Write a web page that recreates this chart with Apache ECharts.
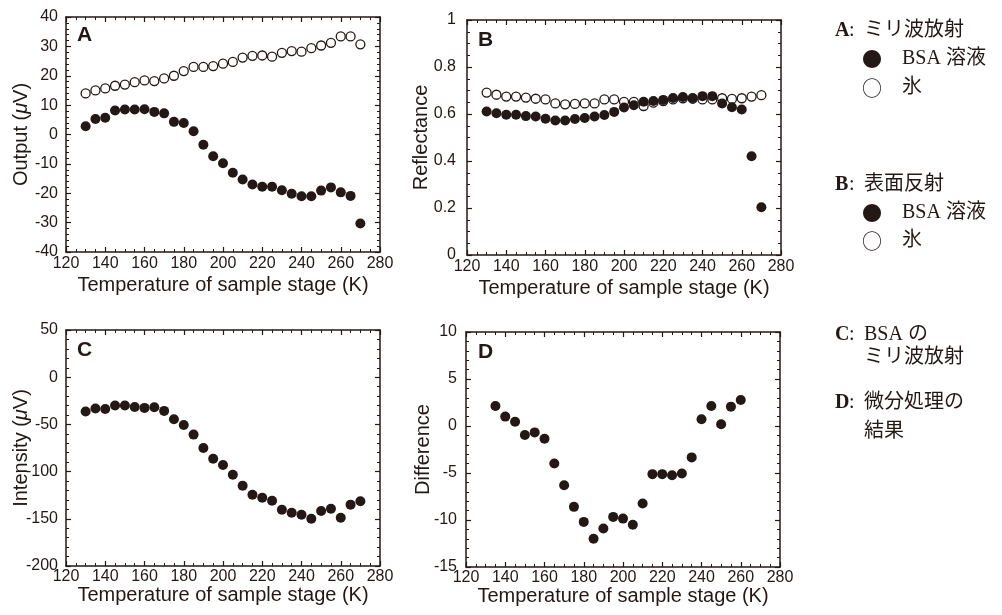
<!DOCTYPE html>
<html>
<head>
<meta charset="utf-8">
<script src="https://cdn.jsdelivr.net/npm/echarts@6/dist/echarts.min.js"></script>
<style>
html, body { margin: 0; padding: 0; background: #fff; }
#chart { width: 1002px; height: 615px; }
</style>
</head>
<body>
<div id="chart"></div>
<script>
// 温度 (K)
var temps = [130, 135, 140, 145, 150, 155, 160, 165, 170, 175, 180, 185, 190, 195, 200,
             205, 210, 215, 220, 225, 230, 235, 240, 245, 250, 255, 260, 265, 270];
// A: ミリ波放射
var outputBSA = [2.8, 5.3, 5.7, 8.2, 8.5, 8.5, 8.6, 7.7, 7.2, 4.3, 3.9, 1.1, -3.5, -7.4, -9.8,
                 -13.0, -15.3, -17.0, -17.8, -17.8, -19.0, -20.2, -21.0, -21.0, -19.1, -18.0, -19.7, -20.9, -30.3];
var outputIce = [14.0, 15.0, 15.7, 16.6, 17.0, 17.8, 18.4, 18.2, 19.1, 20.0, 21.6, 23.0, 23.0, 23.3, 24.1,
                 24.7, 26.2, 26.8, 26.9, 26.5, 27.8, 28.4, 28.2, 29.4, 30.3, 31.2, 33.4, 33.4, 30.7];
// B: 表面反射
var reflBSA = [0.611, 0.603, 0.597, 0.597, 0.591, 0.589, 0.580, 0.572, 0.572, 0.579, 0.583, 0.589, 0.596, 0.609, 0.628,
               0.637, 0.652, 0.655, 0.660, 0.668, 0.672, 0.668, 0.676, 0.676, 0.645, 0.629, 0.619, 0.420, 0.203];
var reflIce = [0.691, 0.682, 0.674, 0.674, 0.670, 0.665, 0.662, 0.645, 0.641, 0.643, 0.645, 0.645, 0.662, 0.662, 0.652,
               0.652, 0.634, 0.648, 0.655, 0.662, 0.667, 0.665, 0.662, 0.662, 0.667, 0.664, 0.667, 0.674, 0.680];
// C: BSA のミリ波放射
var intensity = [-36.4, -33.2, -33.6, -30.0, -30.0, -31.5, -32.5, -31.8, -35.7, -44.6, -50.6, -60.8, -75.0, -86.3, -93.0,
                 -103.3, -115.0, -124.5, -127.7, -130.8, -140.4, -143.6, -145.7, -150.0, -141.8, -139.3, -148.9, -135.0, -131.5];
// D: 微分処理の結果
var diffTemps = [135, 140, 145, 150, 155, 160, 165, 170, 175, 180, 185, 190, 195, 200,
                 205, 210, 215, 220, 225, 230, 235, 240, 245, 250, 255, 260];
var difference = [2.13, 1.0, 0.46, -0.96, -0.68, -1.35, -3.98, -6.3, -8.6, -10.2, -12.0, -10.9, -9.67, -9.85,
                  -10.5, -8.25, -5.12, -5.12, -5.23, -5.05, -3.34, 0.71, 2.13, 0.18, 2.06, 2.77];

var ink = '#231815';
var sansFont = '"Liberation Sans", Arial, sans-serif';
var serifFont = '"Liberation Serif", "Noto Sans CJK JP", serif';
var cjkFont = '"Noto Sans CJK JP", sans-serif';

var chart = echarts.init(document.getElementById('chart'), null, {renderer: 'canvas'});

function zip(xs, ys) {
    return xs.map(function (x, i) { return [x, ys[i]]; });
}

var grids = [
    {left: 66, top: 17, width: 314, height: 235},
    {left: 467, top: 20, width: 314, height: 235},
    {left: 66, top: 330, width: 314, height: 236},
    {left: 466, top: 332, width: 314, height: 235}
];

var xAxes = [];
var yAxes = [];

function axisLine() {
    return {show: true, onZero: false, lineStyle: {color: ink, width: 1.5}};
}

function addAxes(gi, yMin, yMax, yStep, ySplit, yName, nameGap, yLabelMargin, xLabelMargin, xNameGap) {
    var base = {
        type: 'value', gridIndex: gi, min: 120, max: 280, interval: 20,
        axisLine: axisLine(),
        axisTick: {show: true, inside: true, length: 5, lineStyle: {color: ink, width: 1.2}},
        minorTick: {show: true, splitNumber: 4, length: 3, lineStyle: {color: ink, width: 1}},
        splitLine: {show: false}
    };
    xAxes.push(Object.assign({}, base, {
        position: 'bottom',
        axisLabel: {color: ink, fontSize: 16, fontFamily: sansFont, margin: xLabelMargin},
        name: 'Temperature of sample stage (K)', nameLocation: 'middle', nameGap: xNameGap,
        nameTextStyle: {color: ink, fontSize: 20, fontFamily: sansFont}
    }));
    xAxes.push(Object.assign({}, base, {position: 'top', axisLabel: {show: false}}));

    var ybase = {
        type: 'value', gridIndex: gi, min: yMin, max: yMax, interval: yStep,
        axisLine: axisLine(),
        axisTick: {show: true, inside: true, length: 5, lineStyle: {color: ink, width: 1.2}},
        minorTick: {show: true, splitNumber: ySplit, length: 3, lineStyle: {color: ink, width: 1}},
        splitLine: {show: false}
    };
    yAxes.push(Object.assign({}, ybase, {
        position: 'left',
        axisLabel: {color: ink, fontSize: 16, fontFamily: sansFont, margin: yLabelMargin},
        name: yName, nameLocation: 'middle', nameGap: nameGap, nameMoveOverlap: false,
        nameTextStyle: {color: ink, fontSize: 20, fontFamily: sansFont,
                        rich: {i: {fontStyle: 'italic', fontSize: 20, fontFamily: sansFont, color: ink}}}
    }));
    yAxes.push(Object.assign({}, ybase, {position: 'right', axisLabel: {show: false}}));
}

addAxes(0, -40, 40, 10, 5, 'Output ({i|μ}V)', 35, 8, 4, 23);
addAxes(1, 0, 1, 0.2, 4, 'Reflectance', 36, 11, 4, 23);
addAxes(2, -200, 50, 50, 5, 'Intensity ({i|μ}V)', 35, 8, 3, 17);
addAxes(3, -15, 10, 5, 5, 'Difference', 33, 9, 3, 17);

function filled(gi, data) {
    return {
        type: 'scatter', xAxisIndex: gi * 2, yAxisIndex: gi * 2, data: data,
        symbol: 'circle', symbolSize: 10, z: 3,
        itemStyle: {color: ink, opacity: 1}
    };
}

function hollow(gi, data) {
    return {
        type: 'scatter', xAxisIndex: gi * 2, yAxisIndex: gi * 2, data: data,
        symbol: 'circle', symbolSize: 9, z: 2,
        itemStyle: {color: '#fff', borderColor: ink, borderWidth: 1.3, opacity: 1}
    };
}

var letters = [
    {text: 'A', left: 77, top: 25},
    {text: 'B', left: 478, top: 30},
    {text: 'C', left: 77, top: 340},
    {text: 'D', left: 478, top: 342}
];

// 右側の説明テキスト
var heads = [
    {y: 31, key: 'A', text: 'ミリ波放射'},
    {y: 185, key: 'B', text: '表面反射'},
    {y: 335, key: 'C', text: 'BSA の'},
    {y: 403, key: 'D', text: '微分処理の'}
];
var subLines = [
    {x: 862, y: 59, text: '●'}, {x: 902, y: 59, text: 'BSA 溶液'},
    {x: 862, y: 88, text: '○'}, {x: 902, y: 88, text: '氷'},
    {x: 862, y: 213, text: '●'}, {x: 902, y: 213, text: 'BSA 溶液'},
    {x: 862, y: 241, text: '○'}, {x: 902, y: 241, text: '氷'},
    {x: 864, y: 358, text: 'ミリ波放射'},
    {x: 864, y: 432, text: '結果'}
];

function noteText(x, y, text, font, weight) {
    return {
        type: 'text', x: x, y: y,
        style: {text: text, fill: ink, verticalAlign: 'middle',
                font: (weight || 'normal') + ' 20px ' + font}
    };
}

var graphics = [];
heads.forEach(function (h) {
    graphics.push(noteText(835, h.y, h.key, serifFont, 'bold'));
    graphics.push(noteText(849, h.y, ':', serifFont));
    graphics.push(noteText(864, h.y, h.text, serifFont));
});
subLines.forEach(function (s) {
    var f = (s.text === '●' || s.text === '○') ? cjkFont : serifFont;
    graphics.push(noteText(s.x, s.y, s.text, f));
});

var option = {
    animation: false,
    backgroundColor: '#fff',
    title: letters.map(function (l) {
        return {text: l.text, left: l.left, top: l.top, padding: 0,
                textStyle: {color: ink, fontSize: 21, fontWeight: 'bold', fontFamily: sansFont}};
    }),
    grid: grids,
    xAxis: xAxes,
    yAxis: yAxes,
    series: [
        hollow(0, zip(temps, outputIce)),
        filled(0, zip(temps, outputBSA)),
        hollow(1, zip(temps, reflIce)),
        filled(1, zip(temps, reflBSA)),
        filled(2, zip(temps, intensity)),
        filled(3, zip(diffTemps, difference))
    ],
    graphic: graphics
};

chart.setOption(option);
</script>
</body>
</html>
